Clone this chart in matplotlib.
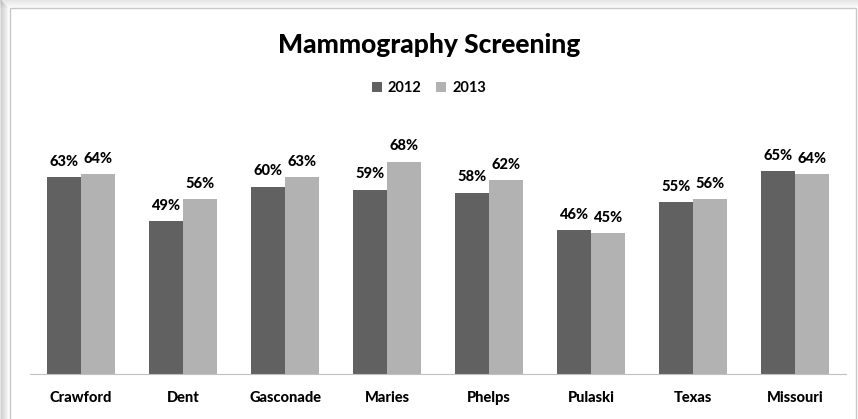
import numpy as np
import matplotlib.pyplot as plt
from matplotlib.patches import Rectangle

counties = ['Crawford', 'Dent', 'Gasconade', 'Maries', 'Phelps', 'Pulaski', 'Texas', 'Missouri']
y2012 = [63, 49, 60, 59, 58, 46, 55, 65]
y2013 = [64, 56, 63, 68, 62, 45, 56, 64]
years = ['2012', '2013']

plt.rcParams['font.family'] = ['Lato', 'DejaVu Sans']

fig = plt.figure(figsize=(8.58, 4.19), dpi=100)
fig.patch.set_facecolor('white')

# shadow + frame, drawn behind the axes
W, H = 858.0, 419.0
for i in range(8):
    a = 0.10 - i * 0.012
    fig.patches.append(Rectangle((i / W, 0), 1.5 / W, 1 - i / H, transform=fig.transFigure,
                                 color='black', alpha=max(a, 0), lw=0, zorder=-5))
    fig.patches.append(Rectangle((0, 1 - (i + 1.5) / H), 1, 1.5 / H, transform=fig.transFigure,
                                 color='black', alpha=max(a, 0), lw=0, zorder=-5))
fig.patches.append(Rectangle((10 / W, -0.01), (W - 12) / W, 1 - 8 / H + 0.01, transform=fig.transFigure,
                             facecolor='white', edgecolor='#c8c8c8', lw=1, zorder=-4))

ax = fig.add_axes([30 / W, (H - 374) / H, 816 / W, 250 / H])
x = np.arange(len(counties))
w = 1 / 3
b1 = ax.bar(x - w / 2, y2012, w, color='#616161', label=years[0])
b2 = ax.bar(x + w / 2, y2013, w, color='#b2b2b2', label=years[1])
for bars, vals in ((b1, y2012), (b2, y2013)):
    for r, v in zip(bars, vals):
        ax.annotate(f'{v}%', (r.get_x() + r.get_width() / 2, v), xytext=(0, 6),
                    textcoords='offset points', ha='center', va='bottom',
                    fontsize=10.5, fontweight='black')

ax.set_xlim(-0.5, 7.5)
ax.set_ylim(0, 80)
ax.set_xticks(x)
ax.set_xticklabels(counties, fontsize=10.5, fontweight='black')
ax.tick_params(axis='x', length=0, pad=12)
ax.set_yticks([])
for s in ['top', 'right', 'left']:
    ax.spines[s].set_visible(False)
ax.spines['bottom'].set_color('#c0c0c0')
ax.set_facecolor('none')

fig.text(0.5, (H - 45) / H, 'Mammography Screening', ha='center', va='center',
         fontsize=19, fontweight='black')
fig.legend(loc='center', bbox_to_anchor=(0.5, (H - 88) / H), ncol=2, frameon=False,
           prop={'size': 10.5, 'weight': 'bold'},
           handlelength=0.7, handleheight=0.7, handletextpad=0.4, columnspacing=1.0)

fig.savefig('out.png', dpi=100)
